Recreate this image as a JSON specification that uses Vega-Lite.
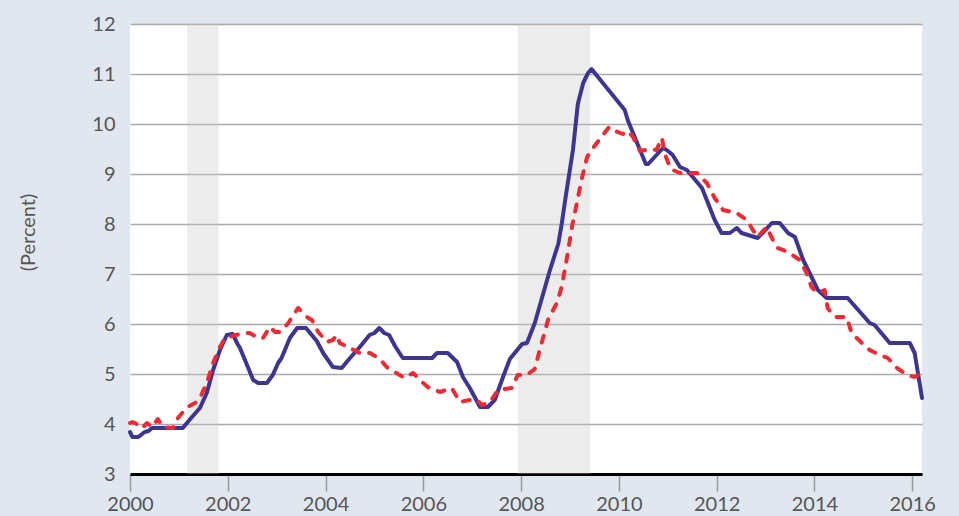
{
  "$schema": "https://vega.github.io/schema/vega-lite/v6.json",
  "width": 792,
  "height": 450,
  "autosize": {"type": "none"},
  "padding": {"left": 130, "top": 24, "right": 37, "bottom": 42},
  "background": "#e1e7ef",
  "config": {"view": {"fill": "white", "stroke": null}, "font": "Lato"},
  "datasets": {
    "rec": [
      {"start": 2001.17, "end": 2001.81},
      {"start": 2007.93, "end": 2009.41}
    ],
    "solid": [
      {"t": 2000.0, "v": 3.84}, {"t": 2000.05, "v": 3.74}, {"t": 2000.17, "v": 3.74}, {"t": 2000.3, "v": 3.84},
      {"t": 2000.38, "v": 3.86}, {"t": 2000.45, "v": 3.92}, {"t": 2001.08, "v": 3.92}, {"t": 2001.25, "v": 4.12},
      {"t": 2001.43, "v": 4.32}, {"t": 2001.57, "v": 4.62}, {"t": 2001.7, "v": 5.08}, {"t": 2001.84, "v": 5.48},
      {"t": 2001.98, "v": 5.78}, {"t": 2002.1, "v": 5.8}, {"t": 2002.2, "v": 5.6}, {"t": 2002.25, "v": 5.52},
      {"t": 2002.52, "v": 4.88}, {"t": 2002.62, "v": 4.82}, {"t": 2002.8, "v": 4.82}, {"t": 2002.92, "v": 4.98},
      {"t": 2003.03, "v": 5.22}, {"t": 2003.1, "v": 5.32}, {"t": 2003.27, "v": 5.72}, {"t": 2003.42, "v": 5.92},
      {"t": 2003.6, "v": 5.92}, {"t": 2003.82, "v": 5.66}, {"t": 2003.95, "v": 5.42}, {"t": 2004.15, "v": 5.14},
      {"t": 2004.33, "v": 5.12}, {"t": 2004.5, "v": 5.32}, {"t": 2004.7, "v": 5.54}, {"t": 2004.9, "v": 5.78},
      {"t": 2005.0, "v": 5.82}, {"t": 2005.1, "v": 5.92}, {"t": 2005.2, "v": 5.82}, {"t": 2005.3, "v": 5.78},
      {"t": 2005.42, "v": 5.56}, {"t": 2005.58, "v": 5.32}, {"t": 2006.18, "v": 5.32}, {"t": 2006.28, "v": 5.42},
      {"t": 2006.5, "v": 5.42}, {"t": 2006.69, "v": 5.24}, {"t": 2006.81, "v": 4.94}, {"t": 2006.95, "v": 4.72},
      {"t": 2007.16, "v": 4.34}, {"t": 2007.32, "v": 4.34}, {"t": 2007.46, "v": 4.48}, {"t": 2007.63, "v": 4.94},
      {"t": 2007.77, "v": 5.3}, {"t": 2008.02, "v": 5.6}, {"t": 2008.12, "v": 5.62}, {"t": 2008.28, "v": 6.02},
      {"t": 2008.42, "v": 6.5}, {"t": 2008.59, "v": 7.08}, {"t": 2008.76, "v": 7.6}, {"t": 2008.83, "v": 8.0},
      {"t": 2008.92, "v": 8.6}, {"t": 2009.06, "v": 9.48}, {"t": 2009.16, "v": 10.4}, {"t": 2009.27, "v": 10.82},
      {"t": 2009.37, "v": 11.02}, {"t": 2009.44, "v": 11.1}, {"t": 2010.12, "v": 10.28}, {"t": 2010.18, "v": 10.08},
      {"t": 2010.55, "v": 9.2}, {"t": 2010.6, "v": 9.2}, {"t": 2010.9, "v": 9.52}, {"t": 2010.98, "v": 9.48},
      {"t": 2011.1, "v": 9.38}, {"t": 2011.25, "v": 9.14}, {"t": 2011.39, "v": 9.08}, {"t": 2011.7, "v": 8.72},
      {"t": 2011.96, "v": 8.08}, {"t": 2012.1, "v": 7.82}, {"t": 2012.27, "v": 7.82}, {"t": 2012.41, "v": 7.92},
      {"t": 2012.51, "v": 7.82}, {"t": 2012.64, "v": 7.78}, {"t": 2012.84, "v": 7.72}, {"t": 2013.13, "v": 8.02},
      {"t": 2013.29, "v": 8.02}, {"t": 2013.46, "v": 7.82}, {"t": 2013.6, "v": 7.74}, {"t": 2013.77, "v": 7.28},
      {"t": 2014.07, "v": 6.68}, {"t": 2014.25, "v": 6.52}, {"t": 2014.68, "v": 6.52}, {"t": 2015.13, "v": 6.02},
      {"t": 2015.23, "v": 5.98}, {"t": 2015.54, "v": 5.62}, {"t": 2015.95, "v": 5.62}, {"t": 2016.05, "v": 5.42},
      {"t": 2016.2, "v": 4.52}
    ],
    "dashed": [
      {"t": 2000.0, "v": 4.02}, {"t": 2000.05, "v": 4.04}, {"t": 2000.14, "v": 4.0}, {"t": 2000.25, "v": 3.92},
      {"t": 2000.35, "v": 4.02}, {"t": 2000.45, "v": 3.94}, {"t": 2000.57, "v": 4.1}, {"t": 2000.67, "v": 3.94},
      {"t": 2000.88, "v": 3.92}, {"t": 2000.98, "v": 4.12}, {"t": 2001.17, "v": 4.34}, {"t": 2001.33, "v": 4.42},
      {"t": 2001.43, "v": 4.52}, {"t": 2001.57, "v": 4.82}, {"t": 2001.7, "v": 5.22}, {"t": 2001.84, "v": 5.54},
      {"t": 2001.94, "v": 5.72}, {"t": 2002.1, "v": 5.76}, {"t": 2002.31, "v": 5.82}, {"t": 2002.45, "v": 5.82},
      {"t": 2002.62, "v": 5.72}, {"t": 2002.72, "v": 5.72}, {"t": 2002.86, "v": 5.94}, {"t": 2002.97, "v": 5.84},
      {"t": 2003.07, "v": 5.84}, {"t": 2003.24, "v": 6.02}, {"t": 2003.34, "v": 6.18}, {"t": 2003.44, "v": 6.32},
      {"t": 2003.62, "v": 6.14}, {"t": 2003.72, "v": 6.08}, {"t": 2003.85, "v": 5.84}, {"t": 2004.03, "v": 5.64},
      {"t": 2004.15, "v": 5.68}, {"t": 2004.23, "v": 5.78}, {"t": 2004.29, "v": 5.62}, {"t": 2004.5, "v": 5.52},
      {"t": 2004.7, "v": 5.42}, {"t": 2004.91, "v": 5.42}, {"t": 2005.11, "v": 5.3}, {"t": 2005.25, "v": 5.14},
      {"t": 2005.38, "v": 5.06}, {"t": 2005.62, "v": 4.92}, {"t": 2005.79, "v": 5.02}, {"t": 2005.93, "v": 4.88},
      {"t": 2006.09, "v": 4.74}, {"t": 2006.34, "v": 4.64}, {"t": 2006.58, "v": 4.72}, {"t": 2006.75, "v": 4.44},
      {"t": 2006.95, "v": 4.48}, {"t": 2007.1, "v": 4.48}, {"t": 2007.2, "v": 4.38}, {"t": 2007.36, "v": 4.44},
      {"t": 2007.53, "v": 4.68}, {"t": 2007.81, "v": 4.72}, {"t": 2007.93, "v": 4.98}, {"t": 2008.12, "v": 4.98},
      {"t": 2008.28, "v": 5.1}, {"t": 2008.38, "v": 5.48}, {"t": 2008.55, "v": 6.08}, {"t": 2008.73, "v": 6.42},
      {"t": 2008.83, "v": 6.74}, {"t": 2008.94, "v": 7.34}, {"t": 2009.04, "v": 7.94}, {"t": 2009.14, "v": 8.42},
      {"t": 2009.24, "v": 8.9}, {"t": 2009.35, "v": 9.34}, {"t": 2009.47, "v": 9.52}, {"t": 2009.61, "v": 9.7},
      {"t": 2009.8, "v": 9.94}, {"t": 2009.88, "v": 9.88}, {"t": 2010.08, "v": 9.8}, {"t": 2010.18, "v": 9.86},
      {"t": 2010.29, "v": 9.74}, {"t": 2010.43, "v": 9.46}, {"t": 2010.65, "v": 9.5}, {"t": 2010.77, "v": 9.48},
      {"t": 2010.88, "v": 9.72}, {"t": 2010.94, "v": 9.4}, {"t": 2011.06, "v": 9.1}, {"t": 2011.25, "v": 9.02},
      {"t": 2011.6, "v": 9.02}, {"t": 2011.8, "v": 8.82}, {"t": 2011.96, "v": 8.52}, {"t": 2012.13, "v": 8.28},
      {"t": 2012.41, "v": 8.22}, {"t": 2012.62, "v": 8.08}, {"t": 2012.74, "v": 7.88}, {"t": 2012.84, "v": 7.74},
      {"t": 2013.02, "v": 7.94}, {"t": 2013.15, "v": 7.68}, {"t": 2013.25, "v": 7.52}, {"t": 2013.46, "v": 7.44},
      {"t": 2013.7, "v": 7.28}, {"t": 2013.84, "v": 7.02}, {"t": 2013.94, "v": 6.74}, {"t": 2014.07, "v": 6.62},
      {"t": 2014.21, "v": 6.68}, {"t": 2014.27, "v": 6.32}, {"t": 2014.42, "v": 6.14}, {"t": 2014.66, "v": 6.14},
      {"t": 2014.76, "v": 5.82}, {"t": 2014.97, "v": 5.62}, {"t": 2015.13, "v": 5.48}, {"t": 2015.34, "v": 5.38},
      {"t": 2015.5, "v": 5.32}, {"t": 2015.69, "v": 5.12}, {"t": 2015.89, "v": 4.98}, {"t": 2016.05, "v": 4.94},
      {"t": 2016.2, "v": 5.02}
    ]
  },
  "layer": [
    {
      "data": {"name": "rec"},
      "mark": {"type": "rect", "color": "#c4c4c4", "opacity": 0.33},
      "encoding": {
        "x": {
          "field": "start", "type": "quantitative",
          "scale": {"domain": [2000, 2016.2], "nice": false, "zero": false},
          "axis": {
            "values": [2000, 2002, 2004, 2006, 2008, 2010, 2012, 2014, 2016],
            "format": "d", "title": null, "grid": false,
            "domainColor": "#000000", "domainWidth": 3,
            "tickColor": "#9a9a9a", "tickSize": 17, "tickWidth": 1.5,
            "labelFontSize": 20, "labelColor": "#555555", "labelPadding": 3,
            "labelFlush": false
          }
        },
        "x2": {"field": "end"}
      }
    },
    {
      "data": {"name": "solid"},
      "mark": {"type": "line", "color": "#3e3590", "strokeWidth": 4, "strokeJoin": "round", "strokeCap": "round"},
      "encoding": {
        "x": {"field": "t", "type": "quantitative"},
        "y": {
          "field": "v", "type": "quantitative",
          "scale": {"domain": [3, 12], "nice": false, "zero": false},
          "axis": {
            "values": [3, 4, 5, 6, 7, 8, 9, 10, 11, 12],
            "grid": true, "gridColor": "#aaaaaa", "gridWidth": 1.5,
            "domain": false, "ticks": false,
            "labelFontSize": 20, "labelColor": "#555555", "labelPadding": 15,
            "title": "(Percent)", "titleFontSize": 20, "titleFontWeight": "normal",
            "titleColor": "#555555", "titleX": -102, "titleY": 208,
            "titleAlign": "center", "titleBaseline": "middle", "titleAngle": -90
          }
        }
      }
    },
    {
      "data": {"name": "dashed"},
      "mark": {"type": "line", "color": "#ee2a33", "strokeWidth": 4, "strokeDash": [7, 10], "strokeCap": "round", "strokeJoin": "round"},
      "encoding": {
        "x": {"field": "t", "type": "quantitative"},
        "y": {"field": "v", "type": "quantitative"}
      }
    }
  ]
}
